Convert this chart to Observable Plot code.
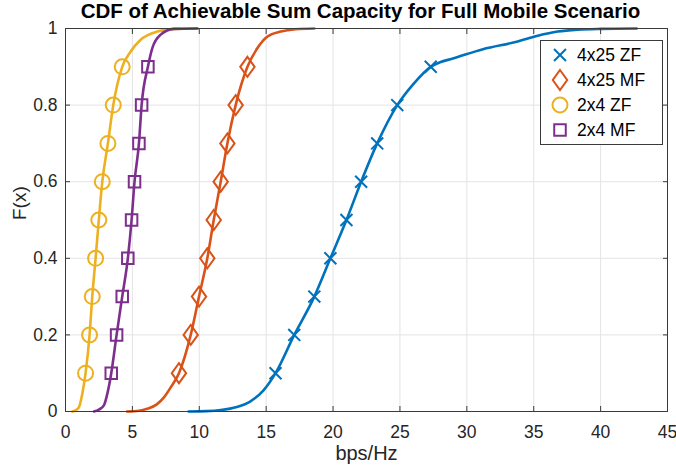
<!DOCTYPE html>
<html>
<head>
<meta charset="utf-8">
<script src="https://cdn.jsdelivr.net/npm/d3@7"></script>
<script src="https://cdn.jsdelivr.net/npm/@observablehq/plot@0.6"></script>
<style>
  body { margin: 0; background: #fff; }
  #wrap { position: relative; width: 676px; height: 474px; font-family: "Liberation Sans", Arial, Helvetica, sans-serif; }
  #legend { position: absolute; left: 540px; top: 40px; }
</style>
</head>
<body>
<div id="wrap"></div>
<script>
// ---------------- data ----------------
const titleText = "CDF of Achievable Sum Capacity for Full Mobile Scenario";
const xLabel = "bps/Hz";
const yLabel = "F(x)";
const xTicks = [0, 5, 10, 15, 20, 25, 30, 35, 40, 45];
const yTicks = [0, 0.2, 0.4, 0.6, 0.8, 1];
const markerLevels = [0.1, 0.2, 0.3, 0.4, 0.5, 0.6, 0.7, 0.8, 0.9];

const seriesNames = ["4x25 ZF", "4x25 MF", "2x4 ZF", "2x4 MF"];
const seriesColors = ["#0072BD", "#D95319", "#EDB120", "#7E2F8E"];

// 4x25 ZF
const zf425X = [9.2, 10.5, 11.6, 12.8, 13.8, 14.8, 15.7, 17.1, 18.6, 19.8, 21.0, 22.1, 23.3, 24.8, 26.0, 27.3, 28.0, 28.9, 31.2, 33.8, 35.3, 36.8, 38.3, 40.0, 42.7];
const zf425F = [0, 0.001, 0.004, 0.012, 0.026, 0.055, 0.1, 0.2, 0.3, 0.4, 0.5, 0.6, 0.7, 0.8, 0.855, 0.9, 0.912, 0.921, 0.946, 0.966, 0.981, 0.992, 0.997, 0.999, 1];
// 4x25 MF
const mf425X = [4.6, 5.5, 6.1, 6.8, 7.36, 7.9, 8.48, 9.36, 9.98, 10.6, 11.08, 11.6, 12.1, 12.72, 13.6, 14.35, 15.1, 16.1, 17.2, 18.6];
const mf425F = [0, 0.002, 0.007, 0.018, 0.037, 0.065, 0.1, 0.2, 0.3, 0.4, 0.5, 0.6, 0.7, 0.8, 0.9, 0.949, 0.979, 0.992, 0.998, 1];
// 2x4 ZF
const zf24X = [0.5, 0.75, 1.0, 1.25, 1.5, 1.8, 2.0, 2.25, 2.49, 2.75, 3.17, 3.57, 4.24, 4.87, 5.6, 6.86, 8.2, 9.86];
const zf24F = [0, 0.003, 0.011, 0.045, 0.1, 0.2, 0.3, 0.4, 0.5, 0.6, 0.7, 0.8, 0.9, 0.94, 0.97, 0.992, 0.999, 1];
// 2x4 MF
const mf24X = [2.12, 2.5, 2.87, 3.15, 3.42, 3.82, 4.24, 4.66, 4.94, 5.16, 5.49, 5.69, 6.16, 6.49, 7.11, 8.1, 9.86];
const mf24F = [0, 0.005, 0.016, 0.05, 0.1, 0.2, 0.3, 0.4, 0.5, 0.6, 0.7, 0.8, 0.9, 0.949, 0.984, 0.999, 1];

// ---------------- build table ----------------
const seriesX = [zf425X, mf425X, zf24X, mf24X];
const seriesF = [zf425F, mf425F, zf24F, mf24F];
const rows = [];
seriesNames.forEach((name, s) => {
  seriesX[s].forEach((x, i) => rows.push({series: name, x, F: seriesF[s][i]}));
});
const markerRows = rows.filter(d => markerLevels.some(l => Math.abs(l - d.F) < 1e-9));

// symbols
const diamondTall = {
  draw(context, size) {
    const r = Math.sqrt(size / Math.PI);
    const w = r * 0.72;
    context.moveTo(0, -r);
    context.lineTo(w, 0);
    context.lineTo(0, r);
    context.lineTo(-w, 0);
    context.closePath();
  }
};
const seriesSymbols = [d3.symbolTimes, diamondTall, d3.symbolCircle, d3.symbolSquare];
const seriesR = [5.5, 10, 7.5, 6.5];

const font = '"Liberation Sans", Arial, Helvetica, sans-serif';
const ink = "#262626";
const gridColor = "#e3e3e3";

const marks = [
  Plot.gridX(xTicks, {stroke: gridColor, strokeOpacity: 1}),
  Plot.gridY(yTicks, {stroke: gridColor, strokeOpacity: 1}),
];
seriesNames.forEach((name, s) => {
  marks.push(Plot.line(rows.filter(d => d.series === name), {
    x: "x", y: "F", stroke: seriesColors[s], strokeWidth: 2.6, curve: "monotone-x"
  }));
});
seriesNames.forEach((name, s) => {
  marks.push(Plot.dot(markerRows.filter(d => d.series === name), {
    x: "x", y: "F", stroke: seriesColors[s], strokeWidth: 2, fill: "none",
    symbol: seriesSymbols[s], r: seriesR[s]
  }));
});
marks.push(
  Plot.frame({stroke: "#3a3a3a", strokeWidth: 1}),
  Plot.axisX(xTicks, {anchor: "bottom", tickSize: -5, tickPadding: 19, fontSize: 17.5, stroke: "#3a3a3a", label: null, tickFormat: d => String(d)}),
  Plot.axisX(xTicks, {anchor: "top", tickSize: -5, stroke: "#3a3a3a", label: null, tickFormat: () => ""}),
  Plot.axisY(yTicks, {anchor: "left", tickSize: -5, tickPadding: 13, fontSize: 17.5, stroke: "#3a3a3a", label: null, tickFormat: d => String(+d.toFixed(1))}),
  Plot.axisY(yTicks, {anchor: "right", tickSize: -5, stroke: "#3a3a3a", label: null, tickFormat: () => ""}),
  Plot.text([titleText], {frameAnchor: "top", dx: -6, dy: -10.5, lineAnchor: "bottom", fontSize: 20.5, fontWeight: "bold", fill: "#000"}),
  Plot.text([xLabel], {frameAnchor: "bottom", dy: 48, fontSize: 20, fill: ink}),
  Plot.text([yLabel], {frameAnchor: "left", dx: -46, rotate: -90, fontSize: 19, fill: ink})
);

const chart = Plot.plot({
  width: 676,
  height: 474,
  marginTop: 28,
  marginBottom: 63,
  marginLeft: 65,
  marginRight: 9,
  style: {fontFamily: font, color: ink, background: "#fff", overflow: "visible"},
  x: {domain: [0, 45]},
  y: {domain: [0, 1]},
  marks
});
const wrap = document.getElementById("wrap");
wrap.appendChild(chart);

// ---------------- legend ----------------
const ns = "http://www.w3.org/2000/svg";
const lg = document.createElementNS(ns, "svg");
lg.setAttribute("id", "legend");
lg.setAttribute("width", 124);
lg.setAttribute("height", 106);
const box = document.createElementNS(ns, "rect");
box.setAttribute("x", 0.5); box.setAttribute("y", 0.5);
box.setAttribute("width", 122); box.setAttribute("height", 104);
box.setAttribute("fill", "#fff"); box.setAttribute("stroke", "#3a3a3a");
lg.appendChild(box);
seriesNames.forEach((name, s) => {
  const cy = 15 + s * 25;
  const p = document.createElementNS(ns, "path");
  p.setAttribute("d", d3.symbol(seriesSymbols[s], seriesR[s] * seriesR[s] * Math.PI)());
  p.setAttribute("transform", `translate(20,${cy})`);
  p.setAttribute("fill", "none");
  p.setAttribute("stroke", seriesColors[s]);
  p.setAttribute("stroke-width", 2);
  lg.appendChild(p);
  const t = document.createElementNS(ns, "text");
  t.setAttribute("x", 37);
  t.setAttribute("y", cy);
  t.setAttribute("dy", "0.35em");
  t.setAttribute("font-size", 17.5);
  t.setAttribute("font-family", font);
  t.setAttribute("fill", "#000");
  t.textContent = name;
  lg.appendChild(t);
});
wrap.appendChild(lg);
</script>
</body>
</html>
